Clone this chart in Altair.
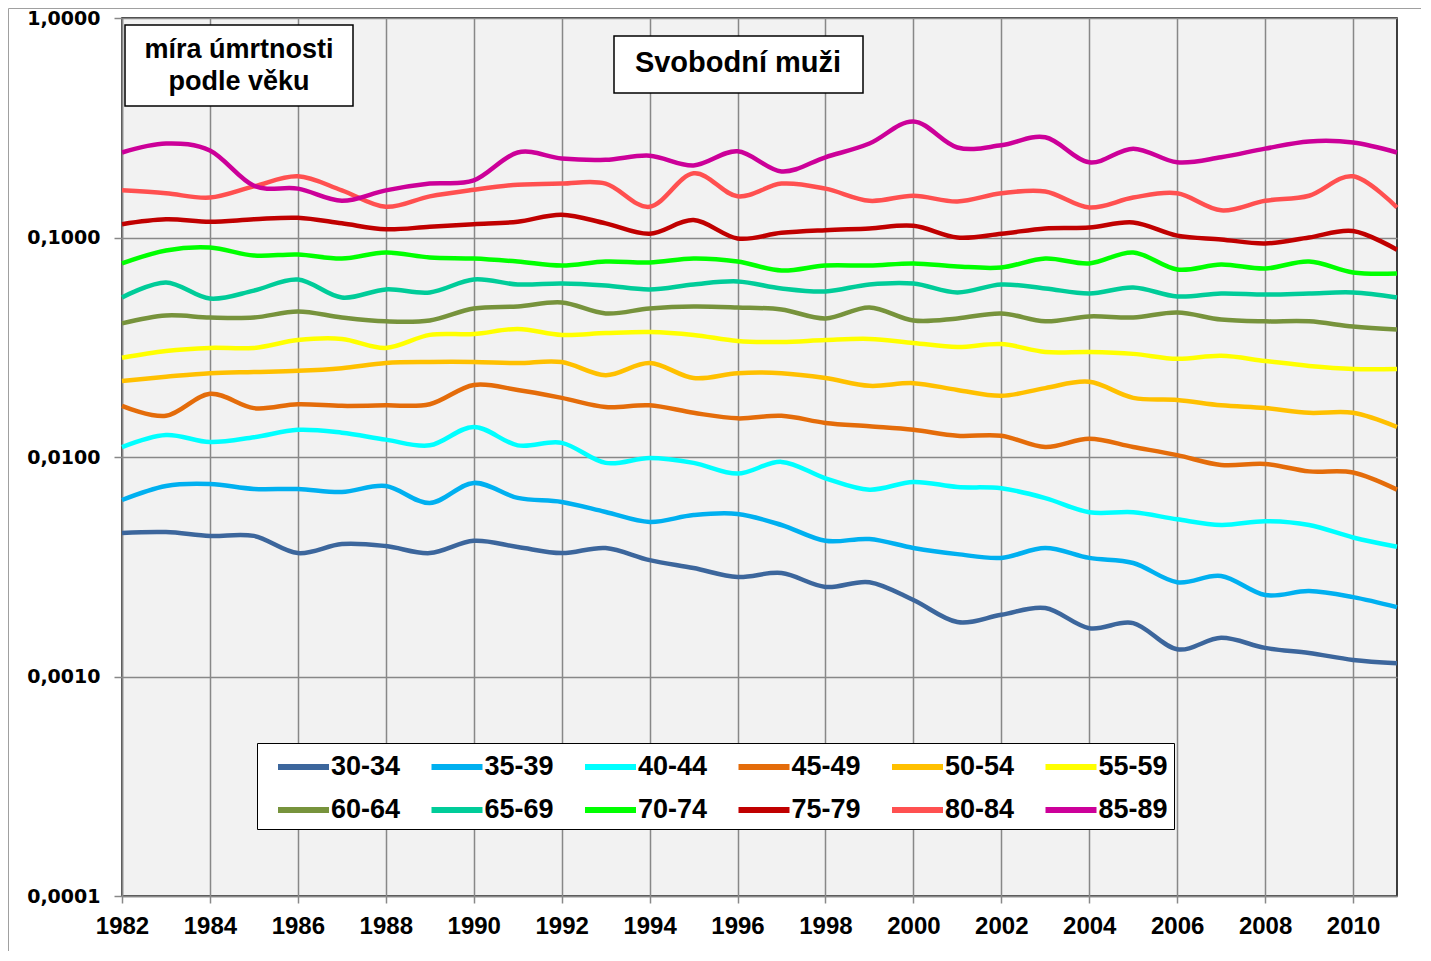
import altair as alt
import pandas as pd

years = list(range(1982, 2012))

groups = ["30-34", "35-39", "40-44", "45-49", "50-54", "55-59",
          "60-64", "65-69", "70-74", "75-79", "80-84", "85-89"]
colors = ["#3C669C", "#00B0F0", "#00FFFF", "#E46C0A", "#FFC000", "#FFFF00",
          "#77933C", "#00CC99", "#00FF00", "#C00000", "#FF5050", "#CC0099"]

s30_34 = [0.00451, 0.00455, 0.00437, 0.00437, 0.00365, 0.00401, 0.00393, 0.00365, 0.00415, 0.00389,
          0.00365, 0.00385, 0.00339, 0.00312, 0.00284, 0.00296, 0.00256, 0.00269, 0.00223, 0.00177,
          0.00191, 0.00205, 0.00166, 0.00175, 0.00133, 0.00150, 0.00135, 0.00128, 0.00119, 0.00115]
s35_39 = [0.00637, 0.00738, 0.00753, 0.00715, 0.00715, 0.00693, 0.00738, 0.00617, 0.00762, 0.00651,
          0.00624, 0.00562, 0.00506, 0.00544, 0.00550, 0.00490, 0.00415, 0.00423, 0.00385, 0.00361,
          0.00347, 0.00385, 0.00347, 0.00329, 0.00269, 0.00287, 0.00235, 0.00245, 0.00230, 0.00207]
s40_44 = [0.0111, 0.0126, 0.0117, 0.0123, 0.0133, 0.0129, 0.0120, 0.0113, 0.0137, 0.0113,
          0.0116, 0.0094, 0.0099, 0.0094, 0.0084, 0.0095, 0.0080, 0.0071, 0.0077, 0.0073,
          0.0072, 0.0065, 0.0056, 0.0056, 0.0052, 0.0049, 0.0051, 0.0049, 0.0043, 0.0039]
s45_49 = [0.0171, 0.0154, 0.0194, 0.0167, 0.0174, 0.0171, 0.0172, 0.0174, 0.0213, 0.0202,
          0.0186, 0.0169, 0.0172, 0.0159, 0.0150, 0.0154, 0.0143, 0.0138, 0.0133, 0.0125,
          0.0125, 0.0111, 0.0121, 0.0111, 0.0102, 0.0092, 0.0093, 0.0086, 0.0085, 0.0071]
s50_54 = [0.0222, 0.0232, 0.0241, 0.0244, 0.0247, 0.0254, 0.0268, 0.0271, 0.0271, 0.0268,
          0.0271, 0.0236, 0.0268, 0.0229, 0.0241, 0.0241, 0.0229, 0.0211, 0.0217, 0.0202,
          0.0190, 0.0206, 0.0220, 0.0186, 0.0182, 0.0172, 0.0167, 0.0159, 0.0159, 0.0137]
s55_59 = [0.0283, 0.0304, 0.0314, 0.0314, 0.0341, 0.0345, 0.0314, 0.0360, 0.0363, 0.0383,
          0.0360, 0.0367, 0.0371, 0.0360, 0.0338, 0.0334, 0.0341, 0.0345, 0.0331, 0.0317,
          0.0327, 0.0301, 0.0301, 0.0295, 0.0280, 0.0289, 0.0274, 0.0260, 0.0252, 0.0252]
s60_64 = [0.0406, 0.0441, 0.0432, 0.0432, 0.0460, 0.0432, 0.0415, 0.0419, 0.0475, 0.0485,
          0.0506, 0.0451, 0.0475, 0.0485, 0.0480, 0.0470, 0.0428, 0.0480, 0.0419, 0.0428,
          0.0451, 0.0415, 0.0437, 0.0432, 0.0455, 0.0423, 0.0415, 0.0415, 0.0393, 0.0381]
s65_69 = [0.0533, 0.0624, 0.0527, 0.0573, 0.0644, 0.0533, 0.0580, 0.0562, 0.0644, 0.0611,
          0.0617, 0.0604, 0.0580, 0.0611, 0.0631, 0.0586, 0.0568, 0.0611, 0.0617, 0.0562,
          0.0611, 0.0586, 0.0556, 0.0592, 0.0539, 0.0556, 0.0550, 0.0556, 0.0562, 0.0533]
s70_74 = [0.0762, 0.0873, 0.0900, 0.0828, 0.0837, 0.0802, 0.0854, 0.0811, 0.0802, 0.0777,
          0.0745, 0.0777, 0.0769, 0.0802, 0.0777, 0.0707, 0.0745, 0.0745, 0.0762, 0.0738,
          0.0730, 0.0802, 0.0762, 0.0854, 0.0715, 0.0753, 0.0722, 0.0777, 0.0693, 0.0686]
s75_79 = [0.115, 0.121, 0.118, 0.121, 0.123, 0.116, 0.109, 0.112, 0.115, 0.118,
          0.127, 0.116, 0.104, 0.120, 0.099, 0.105, 0.108, 0.110, 0.113, 0.100,
          0.104, 0.110, 0.111, 0.117, 0.102, 0.098, 0.094, 0.100, 0.107, 0.088]
s80_84 = [0.164, 0.159, 0.152, 0.171, 0.190, 0.164, 0.138, 0.154, 0.165, 0.174,
          0.176, 0.176, 0.138, 0.196, 0.154, 0.176, 0.167, 0.147, 0.155, 0.146,
          0.159, 0.162, 0.137, 0.152, 0.159, 0.133, 0.147, 0.155, 0.190, 0.137]
s85_89 = [0.244, 0.268, 0.249, 0.172, 0.167, 0.147, 0.164, 0.176, 0.182, 0.244,
          0.229, 0.226, 0.236, 0.213, 0.247, 0.200, 0.232, 0.268, 0.338, 0.257,
          0.263, 0.286, 0.220, 0.254, 0.220, 0.232, 0.254, 0.274, 0.271, 0.244]

series = [s30_34, s35_39, s40_44, s45_49, s50_54, s55_59,
          s60_64, s65_69, s70_74, s75_79, s80_84, s85_89]

y_ticks = [0.0001, 0.001, 0.01, 0.1, 1.0]
x_ticks = list(range(1982, 2011, 2))

rows = []
for g, vals in zip(groups, series):
    for yr, v in zip(years, vals):
        rows.append({"rok": yr, "skupina": g, "hodnota": v, "poradi": groups.index(g)})
df = pd.DataFrame(rows)

W, H = 1275, 878
GRID = "#888888"

lines = alt.Chart(df).mark_line(interpolate="cardinal", strokeWidth=4.5).encode(
    x=alt.X("rok:Q",
            scale=alt.Scale(domain=[1982, 2011], nice=False, zero=False),
            axis=alt.Axis(values=x_ticks, format="d", title=None,
                          labelFont="Liberation Sans", labelFontSize=24, labelFontWeight="bold",
                          labelColor="black", labelFlush=False, labelOverlap=False,
                          tickSize=7, tickColor=GRID, tickWidth=1.5, labelPadding=11,
                          grid=True, gridColor=GRID, gridWidth=1.5,
                          domainColor=GRID, domainWidth=1.5)),
    y=alt.Y("hodnota:Q",
            scale=alt.Scale(type="log", domain=[0.0001, 1], nice=False),
            axis=alt.Axis(values=y_ticks, title=None,
                          labelExpr="replace(format(datum.value, '.4f'), '.', ',')",
                          labelFont="DejaVu Sans", labelFontSize=19, labelFontWeight="bold",
                          labelColor="black", labelFlush=False, labelOverlap=False,
                          tickSize=8, tickColor=GRID, tickWidth=1.5, labelPadding=14,
                          grid=True, gridColor=GRID, gridWidth=1.5,
                          domainColor=GRID, domainWidth=1.5)),
    color=alt.Color("skupina:N",
                    scale=alt.Scale(domain=groups, range=colors),
                    legend=alt.Legend(title=None, orient="none", legendX=135, legendY=725,
                                      columns=6, direction="horizontal",
                                      symbolType="M-0.2,0H3.2", symbolSize=900,
                                      symbolStrokeWidth=6, labelFont="Liberation Sans",
                                      labelFontSize=27, labelFontWeight="bold", labelColor="black",
                                      labelOffset=32, fillColor="white", strokeColor="black",
                                      padding=6, rowPadding=12, columnPadding=15.5, labelLimit=0)),
    order=alt.Order("poradi:Q"),
)

one = pd.DataFrame({"k": [0]})

frame = alt.Chart(one).mark_rect(fillOpacity=0, stroke="#a0a0a0", strokeWidth=1).encode(
    x=alt.value(-113.5), x2=alt.value(W + 60), y=alt.value(-9.5), y2=alt.value(H + 80))

box1 = alt.Chart(one).mark_rect(fill="white", stroke="black", strokeWidth=1.5).encode(
    x=alt.value(3), x2=alt.value(231), y=alt.value(7), y2=alt.value(88))
t1a = alt.Chart(one).mark_text(text="míra úmrtnosti", font="Liberation Sans", fontSize=27,
                               fontWeight="bold", color="black", align="center",
                               baseline="middle").encode(x=alt.value(117), y=alt.value(32))
t1b = alt.Chart(one).mark_text(text="podle věku", font="Liberation Sans", fontSize=27,
                               fontWeight="bold", color="black", align="center",
                               baseline="middle").encode(x=alt.value(117), y=alt.value(64))

box2 = alt.Chart(one).mark_rect(fill="white", stroke="black", strokeWidth=1.5).encode(
    x=alt.value(492), x2=alt.value(741), y=alt.value(18), y2=alt.value(75))
t2 = alt.Chart(one).mark_text(text="Svobodní muži", font="Liberation Sans", fontSize=29,
                              fontWeight="bold", color="black", align="center",
                              baseline="middle").encode(x=alt.value(616), y=alt.value(45))

chart = alt.layer(frame, lines, box1, t1a, t1b, box2, t2).properties(
    width=W, height=H,
    autosize=alt.AutoSizeParams(type="none"),
    padding={"left": 114, "top": 10, "right": 24, "bottom": 55},
    background="white",
).configure_view(fill="#F2F2F2", stroke="black", strokeWidth=1.5)

chart.save("out.html", embed_options={"renderer": "svg", "actions": False})
